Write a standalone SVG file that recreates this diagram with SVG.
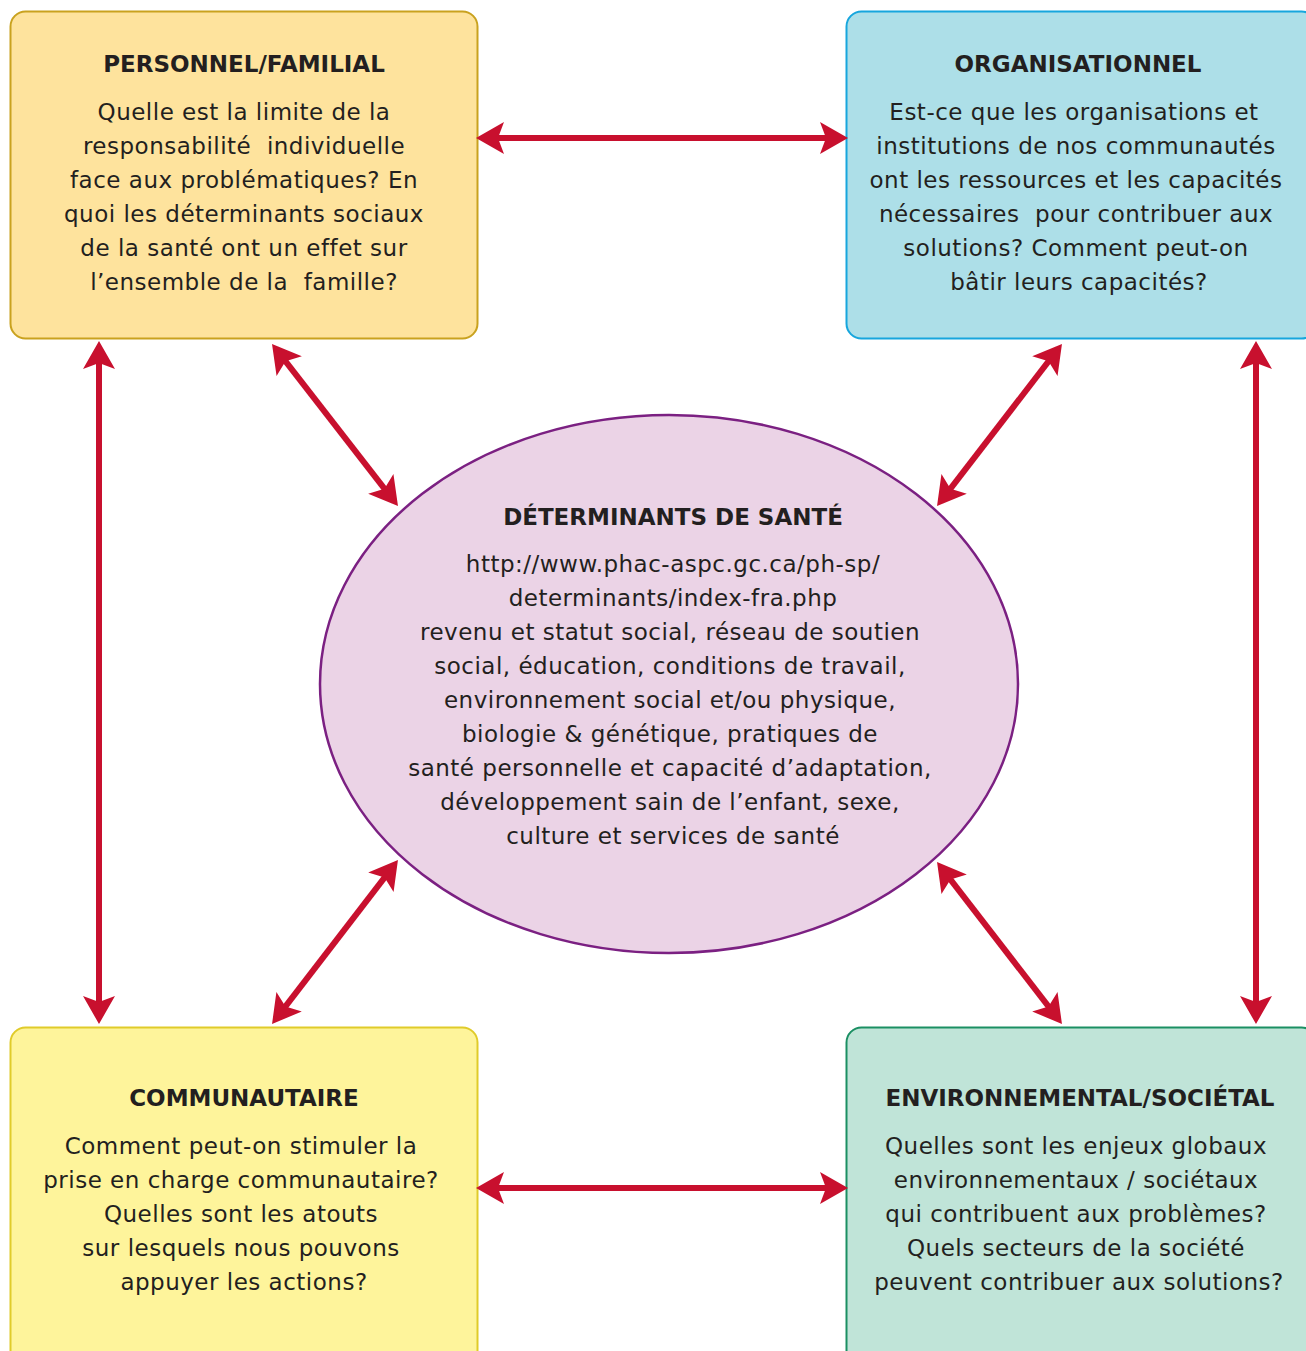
<svg xmlns="http://www.w3.org/2000/svg" width="1306" height="1351" viewBox="0 0 1306 1351">
<defs>
<style>
.t{font-family:"DejaVu Sans",sans-serif;font-size:23px;letter-spacing:0.5px;fill:#231f20;text-anchor:middle}
.h{font-weight:bold;letter-spacing:0}
.conn line{stroke:#c8102e;stroke-width:6;marker-start:url(#ah);marker-end:url(#ah)}
</style>
<marker id="ah" markerUnits="userSpaceOnUse" orient="auto-start-reverse" refX="0" refY="0" markerWidth="40" markerHeight="40" viewBox="-30 -20 40 40" overflow="visible">
<path d="M6 0 L-22 -16 L-16 0 L-22 16 Z" fill="#c8102e"/>
</marker>
</defs>
<rect width="1306" height="1351" fill="#ffffff"/>

<g id="personnel">
<rect x="10.5" y="11.5" width="467" height="327" rx="15" fill="#fee39d" stroke="#c9a21f" stroke-width="2"/>
<text class="t h" x="244" y="72">PERSONNEL/FAMILIAL</text>
<text class="t" x="244" y="120" xml:space="preserve">Quelle est la limite de la</text>
<text class="t" x="244" y="154" xml:space="preserve">responsabilité  individuelle</text>
<text class="t" x="244" y="188" xml:space="preserve">face aux problématiques? En</text>
<text class="t" x="244" y="222" xml:space="preserve">quoi les déterminants sociaux</text>
<text class="t" x="244" y="256" xml:space="preserve">de la santé ont un effet sur</text>
<text class="t" x="244" y="290" xml:space="preserve">l’ensemble de la  famille?</text>
</g>

<g id="organisationnel">
<rect x="846.5" y="11.5" width="470" height="327" rx="15" fill="#addfe8" stroke="#17a6dd" stroke-width="2"/>
<text class="t h" x="1078" y="72">ORGANISATIONNEL</text>
<text class="t" x="1074" y="120" xml:space="preserve">Est-ce que les organisations et</text>
<text class="t" x="1076" y="154" xml:space="preserve">institutions de nos communautés</text>
<text class="t" x="1076" y="188" xml:space="preserve">ont les ressources et les capacités</text>
<text class="t" x="1076" y="222" xml:space="preserve">nécessaires  pour contribuer aux</text>
<text class="t" x="1076" y="256" xml:space="preserve">solutions? Comment peut-on</text>
<text class="t" x="1079" y="290" xml:space="preserve">bâtir leurs capacités?</text>
</g>

<g id="determinants">
<ellipse cx="669" cy="684" rx="349" ry="269" fill="#ebd3e6" stroke="#7b2082" stroke-width="2.5"/>
<text class="t h" x="673" y="525">DÉTERMINANTS DE SANTÉ</text>
<text class="t" x="673" y="572">http://www.phac-aspc.gc.ca/ph-sp/</text>
<text class="t" x="673" y="606">determinants/index-fra.php</text>
<text class="t" x="670" y="640">revenu et statut social, réseau de soutien</text>
<text class="t" x="670" y="674">social, éducation, conditions de travail,</text>
<text class="t" x="670" y="708">environnement social et/ou physique,</text>
<text class="t" x="670" y="742">biologie &amp; génétique, pratiques de</text>
<text class="t" x="670" y="776">santé personnelle et capacité d’adaptation,</text>
<text class="t" x="670" y="810">développement sain de l’enfant, sexe,</text>
<text class="t" x="673" y="844">culture et services de santé</text>
</g>

<g id="communautaire">
<rect x="10.5" y="1027.5" width="467" height="340" rx="15" fill="#fef49b" stroke="#e0cb2a" stroke-width="2"/>
<text class="t h" x="244" y="1106">COMMUNAUTAIRE</text>
<text class="t" x="241" y="1154" xml:space="preserve">Comment peut-on stimuler la</text>
<text class="t" x="241" y="1188" xml:space="preserve">prise en charge communautaire?</text>
<text class="t" x="241" y="1222" xml:space="preserve">Quelles sont les atouts</text>
<text class="t" x="241" y="1256" xml:space="preserve">sur lesquels nous pouvons</text>
<text class="t" x="244" y="1290" xml:space="preserve">appuyer les actions?</text>
</g>

<g id="environnemental">
<rect x="846.5" y="1027.5" width="470" height="340" rx="15" fill="#c0e4d8" stroke="#1b8f63" stroke-width="2"/>
<text class="t h" x="1080" y="1106">ENVIRONNEMENTAL/SOCIÉTAL</text>
<text class="t" x="1076" y="1154" xml:space="preserve">Quelles sont les enjeux globaux</text>
<text class="t" x="1076" y="1188" xml:space="preserve">environnementaux / sociétaux</text>
<text class="t" x="1076" y="1222" xml:space="preserve">qui contribuent aux problèmes?</text>
<text class="t" x="1076" y="1256" xml:space="preserve">Quels secteurs de la société</text>
<text class="t" x="1079" y="1290" xml:space="preserve">peuvent contribuer aux solutions?</text>
</g>

<g id="connectors" class="conn">
<line x1="482" y1="138" x2="842" y2="138"/>
<line x1="482" y1="1188" x2="842" y2="1188"/>
<line x1="99" y1="347" x2="99" y2="1018"/>
<line x1="1256" y1="347" x2="1256" y2="1018"/>
<line x1="275.7" y1="348.7" x2="394.3" y2="501.3"/>
<line x1="1058.3" y1="348.7" x2="940.7" y2="501.3"/>
<line x1="394.3" y1="864.8" x2="275.7" y2="1019.2"/>
<line x1="940.7" y1="866.8" x2="1058.3" y2="1019.2"/>
</g>
</svg>
